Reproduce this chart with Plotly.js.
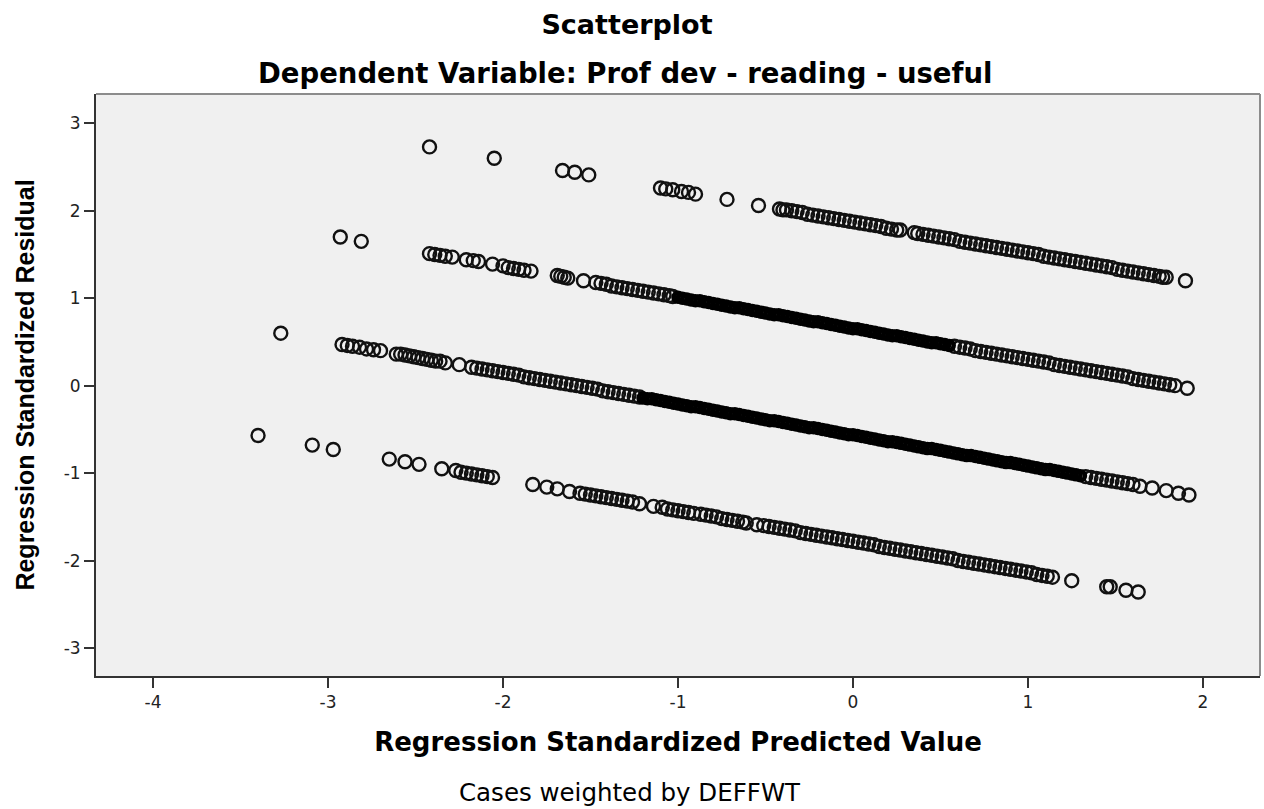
<!DOCTYPE html>
<html>
<head>
<meta charset="utf-8">
<script src="https://cdn.plot.ly/plotly-3.0.1.min.js"></script>
<style>html,body{margin:0;padding:0;background:#fff;}</style>
</head>
<body>
<div id="chart" style="width:1264px;height:809px;"></div>
<script>
// Regression Standardized Predicted Value (x) and Regression Standardized Residual (y).
// Each band of residuals is split into its scattered part and its very dense core (drawn as a solid black run in the picture).
const band1X = [-2.42,-2.05,-1.66,-1.59,-1.51,-1.10,-1.07,-1.03,-0.98,-0.94,-0.90,-0.72,-0.54,-0.42,-0.40,-0.38,-0.35,-0.32,-0.29,-0.26,-0.23,-0.20,-0.17,-0.14,-0.11,-0.08,-0.05,-0.02,0.01,0.04,0.07,0.10,0.13,0.16,0.19,0.22,0.25,0.27,0.35,0.37,0.40,0.43,0.46,0.49,0.52,0.55,0.58,0.61,0.64,0.67,0.70,0.73,0.76,0.79,0.82,0.85,0.88,0.91,0.94,0.97,1.00,1.03,1.06,1.09,1.12,1.15,1.18,1.21,1.24,1.27,1.30,1.33,1.36,1.39,1.42,1.45,1.48,1.51,1.54,1.57,1.60,1.63,1.66,1.69,1.72,1.75,1.77,1.79,1.90];
const band1Y = [2.73,2.60,2.46,2.44,2.41,2.26,2.25,2.24,2.22,2.21,2.19,2.13,2.06,2.02,2.01,2.01,2.00,1.99,1.98,1.96,1.95,1.94,1.93,1.92,1.91,1.90,1.89,1.88,1.87,1.86,1.85,1.84,1.83,1.82,1.80,1.79,1.78,1.78,1.75,1.74,1.73,1.72,1.71,1.70,1.69,1.68,1.67,1.65,1.64,1.63,1.62,1.61,1.60,1.59,1.58,1.57,1.56,1.55,1.54,1.53,1.52,1.51,1.50,1.48,1.47,1.46,1.45,1.44,1.43,1.42,1.41,1.40,1.39,1.38,1.37,1.36,1.35,1.33,1.32,1.31,1.30,1.29,1.28,1.27,1.26,1.25,1.24,1.24,1.20];

const band2X = [-2.93,-2.81,-2.42,-2.39,-2.36,-2.33,-2.29,-2.21,-2.17,-2.14,-2.06,-2.00,-1.97,-1.94,-1.91,-1.88,-1.84,-1.69,-1.67,-1.65,-1.63,-1.54,-1.47,-1.44,-1.41,-1.38,-1.35,-1.32,-1.29,-1.26,-1.23,-1.20,-1.17,-1.14,-1.11,-1.08,-1.05,-1.03,
 0.58,0.61,0.64,0.67,0.70,0.73,0.76,0.79,0.82,0.85,0.88,0.91,0.94,0.97,1.00,1.03,1.06,1.09,1.12,1.15,1.18,1.21,1.24,1.27,1.30,1.33,1.36,1.39,1.42,1.45,1.48,1.51,1.54,1.57,1.60,1.63,1.66,1.69,1.72,1.75,1.78,1.81,1.84,1.91];
const band2Y = [1.70,1.65,1.51,1.50,1.49,1.48,1.47,1.44,1.43,1.42,1.39,1.37,1.35,1.34,1.33,1.32,1.31,1.26,1.25,1.24,1.23,1.20,1.18,1.17,1.16,1.14,1.13,1.12,1.11,1.10,1.09,1.08,1.07,1.06,1.05,1.04,1.03,1.02,
 0.45,0.44,0.43,0.42,0.40,0.39,0.38,0.37,0.36,0.35,0.34,0.33,0.32,0.31,0.30,0.29,0.28,0.27,0.26,0.24,0.23,0.22,0.21,0.20,0.19,0.18,0.17,0.16,0.15,0.14,0.13,0.12,0.11,0.10,0.08,0.07,0.06,0.05,0.04,0.03,0.02,0.01,0.00,-0.03];
const band2CoreX = [-1.000,-0.975,-0.950,-0.925,-0.900,-0.875,-0.850,-0.825,-0.800,-0.775,-0.750,-0.725,-0.700,-0.675,-0.650,-0.625,-0.600,-0.575,-0.550,-0.525,-0.500,-0.475,-0.450,-0.425,-0.400,-0.375,-0.350,-0.325,-0.300,-0.275,-0.250,-0.225,-0.200,-0.175,-0.150,-0.125,-0.100,-0.075,-0.050,-0.025,0.000,0.025,0.050,0.075,0.100,0.125,0.150,0.175,0.200,0.225,0.250,0.275,0.300,0.325,0.350,0.375,0.400,0.425,0.450,0.475,0.500,0.525,0.550];
const band2CoreY = [1.01,1.00,0.99,0.98,0.97,0.97,0.96,0.95,0.94,0.93,0.92,0.91,0.90,0.89,0.89,0.88,0.87,0.86,0.85,0.84,0.83,0.82,0.81,0.81,0.80,0.79,0.78,0.77,0.76,0.75,0.74,0.73,0.73,0.72,0.71,0.70,0.69,0.68,0.67,0.66,0.65,0.65,0.64,0.63,0.62,0.61,0.60,0.59,0.58,0.57,0.57,0.56,0.55,0.54,0.53,0.52,0.51,0.50,0.49,0.49,0.48,0.47,0.46];

const band3X = [-3.27,-2.92,-2.89,-2.86,-2.82,-2.78,-2.74,-2.70,-2.61,-2.585,-2.56,-2.535,-2.51,-2.485,-2.46,-2.435,-2.41,-2.385,-2.36,-2.33,-2.25,
 -2.18,-2.15,-2.12,-2.09,-2.06,-2.03,-2.00,-1.97,-1.94,-1.91,-1.88,-1.85,-1.82,-1.79,-1.76,-1.73,-1.70,-1.67,-1.64,-1.61,-1.58,-1.55,-1.52,-1.49,-1.46,-1.43,-1.40,-1.37,-1.34,-1.31,-1.28,-1.25,-1.22,
 1.33,1.36,1.39,1.42,1.45,1.48,1.51,1.54,1.57,1.60,1.64,1.71,1.79,1.86,1.92];
const band3Y = [0.60,0.47,0.46,0.45,0.44,0.42,0.41,0.40,0.36,0.36,0.35,0.34,0.33,0.32,0.31,0.30,0.29,0.28,0.28,0.26,0.24,
 0.21,0.20,0.19,0.18,0.17,0.16,0.15,0.14,0.13,0.12,0.10,0.09,0.08,0.07,0.06,0.05,0.04,0.03,0.02,0.01,0.00,-0.01,-0.02,-0.03,-0.04,-0.06,-0.07,-0.08,-0.09,-0.10,-0.11,-0.12,-0.13,
 -1.04,-1.05,-1.06,-1.07,-1.08,-1.09,-1.10,-1.11,-1.12,-1.13,-1.15,-1.17,-1.20,-1.23,-1.25];
const band3CoreX = [-1.200,-1.175,-1.150,-1.125,-1.100,-1.075,-1.050,-1.025,-1.000,-0.975,-0.950,-0.925,-0.900,-0.875,-0.850,-0.825,-0.800,-0.775,-0.750,-0.725,-0.700,-0.675,-0.650,-0.625,-0.600,-0.575,-0.550,-0.525,-0.500,-0.475,-0.450,-0.425,-0.400,-0.375,-0.350,-0.325,-0.300,-0.275,-0.250,-0.225,-0.200,-0.175,-0.150,-0.125,-0.100,-0.075,-0.050,-0.025,0.000,0.025,0.050,0.075,0.100,0.125,0.150,0.175,0.200,0.225,0.250,0.275,0.300,0.325,0.350,0.375,0.400,0.425,0.450,0.475,0.500,0.525,0.550,0.575,0.600,0.625,0.650,0.675,0.700,0.725,0.750,0.775,0.800,0.825,0.850,0.875,0.900,0.925,0.950,0.975,1.000,1.025,1.050,1.075,1.100,1.125,1.150,1.175,1.200,1.225,1.250,1.275,1.300];
const band3CoreY = [-0.14,-0.15,-0.15,-0.16,-0.17,-0.18,-0.19,-0.20,-0.21,-0.22,-0.23,-0.24,-0.24,-0.25,-0.26,-0.27,-0.28,-0.29,-0.30,-0.31,-0.32,-0.32,-0.33,-0.34,-0.35,-0.36,-0.37,-0.38,-0.39,-0.40,-0.40,-0.41,-0.42,-0.43,-0.44,-0.45,-0.46,-0.47,-0.48,-0.48,-0.49,-0.50,-0.51,-0.52,-0.53,-0.54,-0.55,-0.56,-0.56,-0.57,-0.58,-0.59,-0.60,-0.61,-0.62,-0.63,-0.64,-0.64,-0.65,-0.66,-0.67,-0.68,-0.69,-0.70,-0.71,-0.72,-0.72,-0.73,-0.74,-0.75,-0.76,-0.77,-0.78,-0.79,-0.80,-0.80,-0.81,-0.82,-0.83,-0.84,-0.85,-0.86,-0.87,-0.88,-0.88,-0.89,-0.90,-0.91,-0.92,-0.93,-0.94,-0.95,-0.96,-0.96,-0.97,-0.98,-0.99,-1.00,-1.01,-1.02,-1.03];

const band4X = [-3.40,-3.09,-2.97,-2.65,-2.56,-2.48,-2.35,-2.27,-2.24,-2.21,-2.18,-2.15,-2.12,-2.09,-2.06,-1.83,-1.75,-1.69,-1.62,-1.56,-1.53,-1.50,-1.47,-1.44,-1.41,-1.38,-1.35,-1.32,-1.29,-1.26,-1.22,-1.14,-1.09,-1.06,-1.03,-1.00,-0.97,-0.94,-0.91,-0.87,-0.84,-0.81,-0.78,-0.75,-0.72,-0.69,-0.66,-0.63,-0.61,-0.55,
 -0.51,-0.48,-0.45,-0.42,-0.39,-0.36,-0.33,-0.30,-0.27,-0.24,-0.21,-0.18,-0.15,-0.12,-0.09,-0.06,-0.03,0.00,0.03,0.06,0.09,0.12,0.15,0.18,0.21,0.24,0.27,0.30,0.33,0.36,0.39,0.42,0.45,0.48,0.51,0.54,0.57,0.60,0.63,0.66,0.69,0.72,0.75,0.78,0.81,0.84,0.87,0.90,0.93,0.96,0.99,1.02,1.05,1.08,1.11,1.14,
 1.25,1.45,1.47,1.56,1.63];
const band4Y = [-0.57,-0.68,-0.73,-0.84,-0.87,-0.90,-0.95,-0.97,-0.99,-1.00,-1.01,-1.02,-1.03,-1.04,-1.05,-1.13,-1.16,-1.18,-1.21,-1.23,-1.24,-1.25,-1.26,-1.27,-1.28,-1.29,-1.30,-1.31,-1.32,-1.33,-1.35,-1.38,-1.39,-1.41,-1.42,-1.43,-1.44,-1.45,-1.46,-1.47,-1.48,-1.49,-1.50,-1.52,-1.53,-1.54,-1.55,-1.56,-1.57,-1.59,
 -1.60,-1.61,-1.62,-1.63,-1.64,-1.65,-1.66,-1.68,-1.69,-1.70,-1.71,-1.72,-1.73,-1.74,-1.75,-1.76,-1.77,-1.78,-1.79,-1.80,-1.81,-1.82,-1.84,-1.85,-1.86,-1.87,-1.88,-1.89,-1.90,-1.91,-1.92,-1.93,-1.94,-1.95,-1.96,-1.97,-1.98,-2.00,-2.01,-2.02,-2.03,-2.04,-2.05,-2.06,-2.07,-2.08,-2.09,-2.10,-2.11,-2.12,-2.13,-2.14,-2.16,-2.17,-2.18,-2.19,
 -2.23,-2.30,-2.30,-2.34,-2.36];

const xTickVals = [-4,-3,-2,-1,0,1,2];
const xTickLabels = ['-4','-3','-2','-1','0','1','2'];
const yTickVals = [-3,-2,-1,0,1,2,3];
const yTickLabels = ['-3','-2','-1','0','1','2','3'];

const chartTitle = 'Scatterplot';
const chartSubtitle = 'Dependent Variable: Prof dev - reading - useful';
const xTitle = 'Regression Standardized Predicted Value';
const yTitle = 'Regression Standardized Residual';
const footnote = 'Cases weighted by DEFFWT';

const markerOpen = {symbol:'circle-open', size:13, color:'#111', line:{width:2.4, color:'#111'}};
const markerCore = {symbol:'circle-open', size:9, color:'#000', line:{width:4.5, color:'#000'}};
const series = [
  [band1X, band1Y, markerOpen],
  [band2X, band2Y, markerOpen],
  [band2CoreX, band2CoreY, markerCore],
  [band3X, band3Y, markerOpen],
  [band3CoreX, band3CoreY, markerCore],
  [band4X, band4Y, markerOpen]
];
const traces = series.map(s => ({
  type:'scatter', mode:'markers', x:s[0], y:s[1], marker:s[2],
  showlegend:false, hoverinfo:'skip'
}));

const axisCommon = {
  ticks:'outside', ticklen:10, tickwidth:2, tickcolor:'#333',
  showline:true, linecolor:'#333', linewidth:2, mirror:false,
  showgrid:false, zeroline:false,
  tickfont:{family:'DejaVu Sans, sans-serif', size:17, color:'#222'}
};

const layout = {
  width:1264, height:809,
  margin:{l:96, r:4, t:94, b:133},
  paper_bgcolor:'#ffffff', plot_bgcolor:'#f0f0f0',
  font:{family:'DejaVu Sans, sans-serif', color:'#000'},
  title:{text:'<b>'+chartTitle+'</b>', xref:'container', x:627/1264, xanchor:'center',
         yref:'container', y:1-25/809, yanchor:'middle',
         font:{family:'DejaVu Sans, sans-serif', size:27, color:'#000'}},
  xaxis:Object.assign({}, axisCommon, {
    range:[-4.326, 2.326], tickvals:xTickVals, ticktext:xTickLabels,
    title:{text:'<b>'+xTitle+'</b>', standoff:21,
           font:{family:'DejaVu Sans, sans-serif', size:26, color:'#000'}}
  }),
  yaxis:Object.assign({}, axisCommon, {
    range:[-3.32, 3.335], tickvals:yTickVals, ticktext:yTickLabels,
    title:{text:'<b>'+yTitle+'</b>', standoff:22,
           font:{family:'Liberation Sans, Arial, sans-serif', size:25, color:'#000'}}
  }),
  annotations:[
    {text:'<b>'+chartSubtitle+'</b>', xref:'paper', yref:'paper', x:(625-96)/1164, y:1+(94-73)/582,
     xanchor:'center', yanchor:'middle', showarrow:false,
     font:{family:'DejaVu Sans, sans-serif', size:27.5, color:'#000'}},
    {text:footnote, xref:'paper', yref:'paper', x:(630-96)/1164, y:-(792-676)/582,
     xanchor:'center', yanchor:'middle', showarrow:false,
     font:{family:'DejaVu Sans, sans-serif', size:24.5, color:'#000'}}
  ],
  shapes:[
    {type:'line', xref:'paper', yref:'paper', x0:0, x1:1, y0:1, y1:1, line:{color:'#8c8c8c', width:2}},
    {type:'line', xref:'paper', yref:'paper', x0:1, x1:1, y0:0, y1:1, line:{color:'#8c8c8c', width:2}}
  ],
  hovermode:false
};

Plotly.newPlot('chart', traces, layout, {displayModeBar:false, staticPlot:true});
</script>
</body>
</html>
